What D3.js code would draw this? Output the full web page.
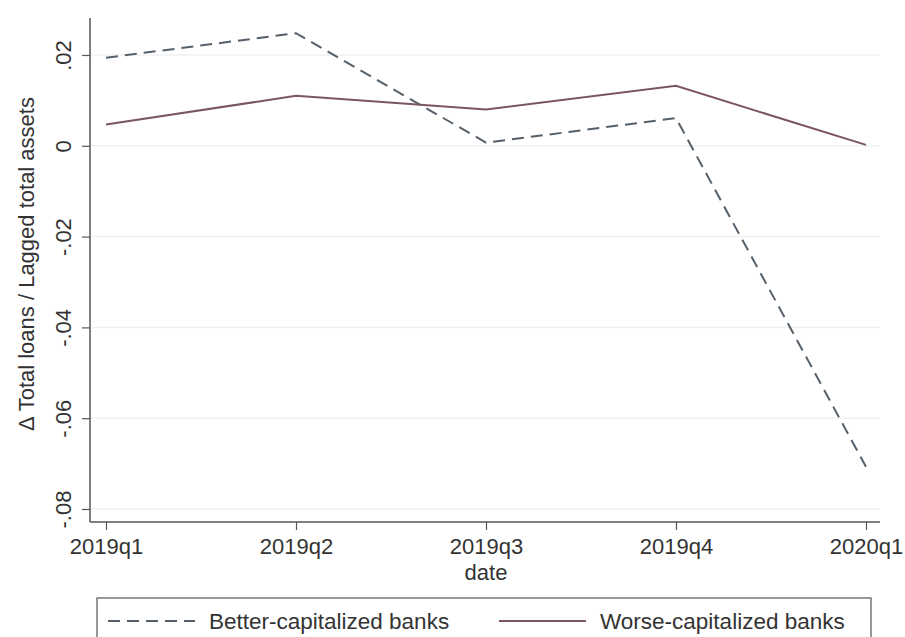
<!DOCTYPE html>
<html>
<head>
<meta charset="utf-8">
<script src="https://cdn.jsdelivr.net/npm/d3@7"></script>
<style>
  html, body { margin: 0; padding: 0; background: #fff; }
  svg { display: block; font-family: "Liberation Sans", Arial, sans-serif; }
</style>
</head>
<body>
<svg id="chart" width="905" height="637"></svg>
<script>
const categories = ["2019q1", "2019q2", "2019q3", "2019q4", "2020q1"];
const betterValues = [0.0194, 0.0248, 0.0007, 0.0061, -0.0707];
const worseValues = [0.0047, 0.0110, 0.0080, 0.0132, 0.0002];
const yTicks = [-0.08, -0.06, -0.04, -0.02, 0, 0.02];
const yTickLabels = ["-.08", "-.06", "-.04", "-.02", "0", ".02"];
const seriesNames = ["Better-capitalized banks", "Worse-capitalized banks"];
const xTitle = "date";
const yTitle = "Δ Total loans / Lagged total assets";

const svg = d3.select("#chart");
const fontSize = 22;
const textColor = "#333";
const axisColor = "#555";
const gridColor = "#eef1f2";
const betterColor = "#55606b";
const worseColor = "#7c5562";

const plotLeft = 90, plotRight = 880, plotTop = 18, plotBottom = 522;

const x = d3.scalePoint().domain(categories).range([106, 866]);
const y = d3.scaleLinear().domain([-0.08, 0.02]).range([509, 55]);

// gridlines
svg.append("g").selectAll("line").data(yTicks).join("line")
  .attr("x1", plotLeft + 1).attr("x2", plotRight)
  .attr("y1", d => y(d)).attr("y2", d => y(d))
  .attr("stroke", gridColor).attr("stroke-width", 1.5);

// y axis
const yAxis = d3.axisLeft(y).tickValues(yTicks)
  .tickFormat((d, i) => yTickLabels[i]).tickSize(8).tickPadding(4);
const gy = svg.append("g").attr("transform", `translate(${plotLeft},0)`).call(yAxis);
gy.select(".domain").attr("d", `M0,${plotTop}V${plotBottom}`).attr("stroke", axisColor).attr("stroke-width", 1.5);
gy.selectAll(".tick line").attr("stroke", axisColor).attr("stroke-width", 1.2);
gy.selectAll(".tick text")
  .attr("font-size", fontSize).attr("fill", textColor)
  .attr("font-family", "Liberation Sans, Arial, sans-serif")
  .attr("x", null).attr("dy", null)
  .attr("text-anchor", "middle")
  .attr("transform", d => `translate(-27,0) rotate(-90)`)
  .attr("dominant-baseline", "central");

// x axis
const xAxis = d3.axisBottom(x).tickSize(8).tickPadding(5);
const gx = svg.append("g").attr("transform", `translate(0,${plotBottom})`).call(xAxis);
gx.select(".domain").attr("d", `M${plotLeft},0H${plotRight}`).attr("stroke", axisColor).attr("stroke-width", 1.5);
gx.selectAll(".tick line").attr("stroke", axisColor).attr("stroke-width", 1.2);
gx.selectAll(".tick text")
  .attr("font-size", fontSize).attr("fill", textColor)
  .attr("font-family", "Liberation Sans, Arial, sans-serif")
  .attr("dy", "0.85em");

// axis titles
svg.append("text")
  .attr("x", x("2019q3")).attr("y", 580)
  .attr("text-anchor", "middle").attr("font-size", fontSize).attr("fill", textColor)
  .text(xTitle);
svg.append("text")
  .attr("transform", `translate(34,${(plotTop + plotBottom) / 2 - 6}) rotate(-90)`)
  .attr("text-anchor", "middle").attr("font-size", fontSize).attr("fill", textColor)
  .text(yTitle);

// lines
const line = d3.line().x((d, i) => x(categories[i])).y(d => y(d));
svg.append("path").datum(worseValues)
  .attr("d", line).attr("fill", "none")
  .attr("stroke", worseColor).attr("stroke-width", 2);
svg.append("path").datum(betterValues)
  .attr("d", line).attr("fill", "none")
  .attr("stroke", betterColor).attr("stroke-width", 2)
  .attr("stroke-dasharray", "12,7");

// legend
const legend = svg.append("g");
legend.append("rect")
  .attr("x", 97).attr("y", 598).attr("width", 774).attr("height", 50)
  .attr("fill", "#fff").attr("stroke", axisColor).attr("stroke-width", 1.2);
const legendItems = [
  { name: seriesNames[0], color: betterColor, dash: "12,7", x0: 108 },
  { name: seriesNames[1], color: worseColor, dash: null, x0: 499 }
];
legendItems.forEach(it => {
  legend.append("line")
    .attr("x1", it.x0).attr("x2", it.x0 + 87)
    .attr("y1", 621).attr("y2", 621)
    .attr("stroke", it.color).attr("stroke-width", 2)
    .attr("stroke-dasharray", it.dash);
  legend.append("text")
    .attr("x", it.x0 + 101).attr("y", 621)
    .attr("dominant-baseline", "central")
    .attr("font-size", 22.5).attr("fill", textColor)
    .text(it.name);
});
</script>
</body>
</html>
